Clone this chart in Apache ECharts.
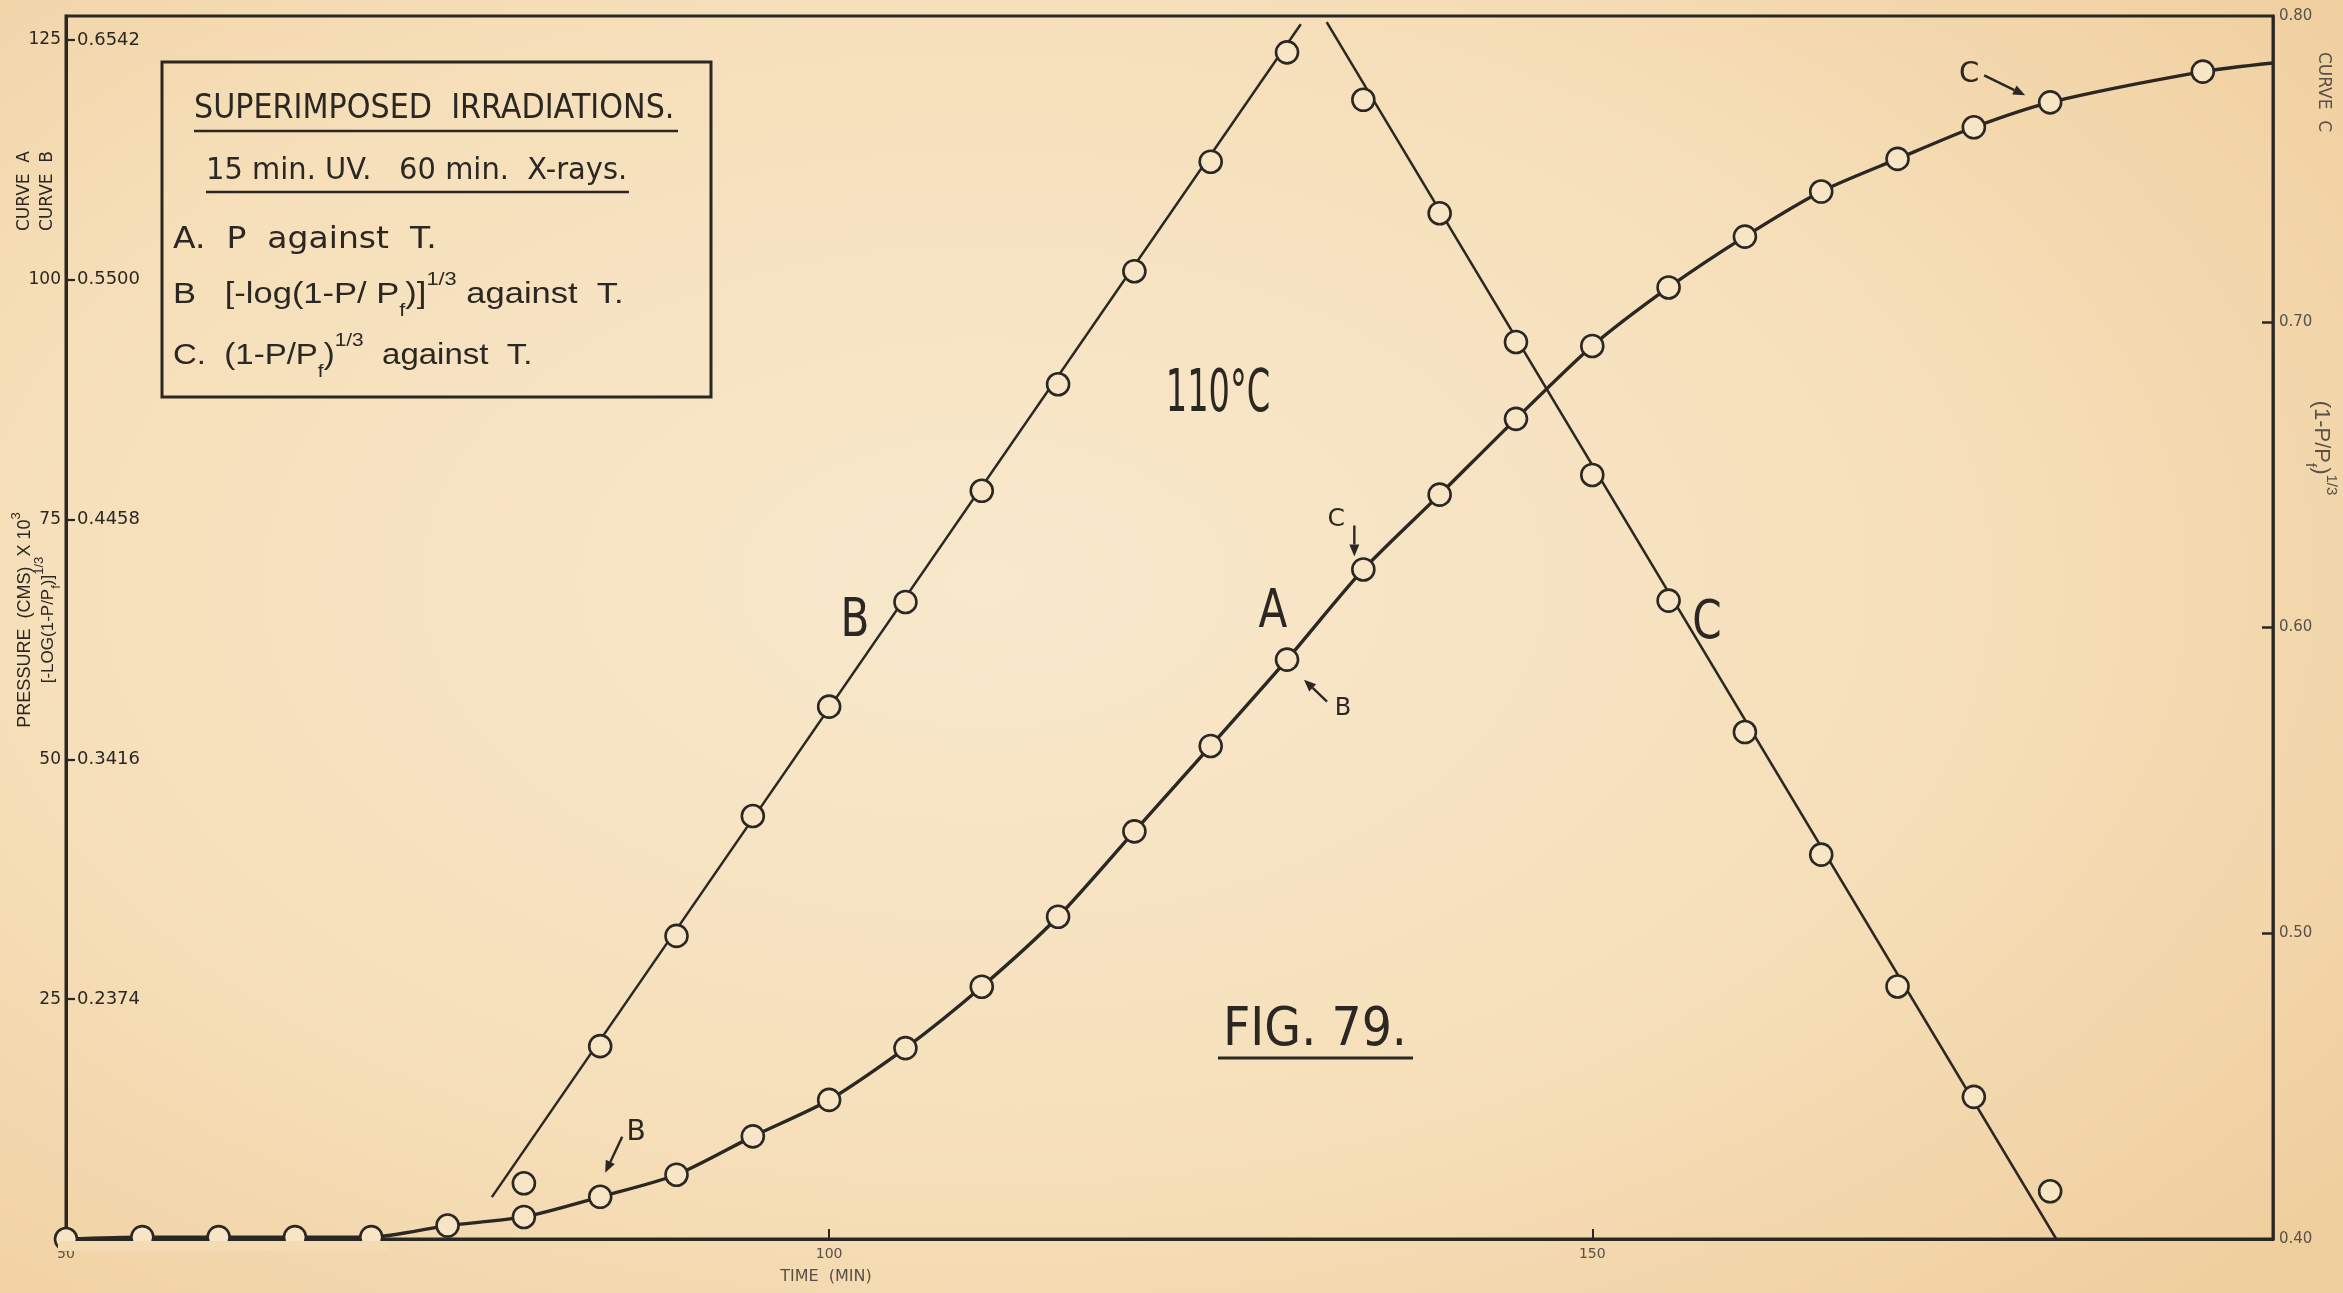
<!DOCTYPE html>
<html>
<head>
<meta charset="utf-8">
<title>Fig. 79 - Superimposed irradiations, 110°C</title>
<script src="https://cdn.jsdelivr.net/npm/echarts@6/dist/echarts.min.js"></script>
<style>
  html, body { margin: 0; padding: 0; }
  body {
    width: 2343px; height: 1293px; overflow: hidden;
    background: radial-gradient(ellipse 72% 78% at 42% 45%, #f8e8cc 0%, #f6e0bb 55%, #f0cf9f 100%);
  }
  #chart { width: 2343px; height: 1293px; }
</style>
</head>
<body>
<div id="chart"></div>
<script>
// ---- Curve A: pressure (cms x 10^3) against time (min) ----
const timeA = [50, 55, 60, 65, 70, 75, 80, 85, 90, 95, 100, 105, 110, 115, 120, 125,
               130, 135, 140, 145, 150, 155, 160, 165, 170, 175, 180, 190];
const pressureA = [0, 0.2, 0.2, 0.2, 0.2, 1.4, 2.3, 4.4, 6.7, 10.7, 14.5, 19.9, 26.3, 33.6,
                   42.5, 51.4, 60.4, 69.8, 77.6, 85.5, 93.1, 99.2, 104.5, 109.2, 112.6,
                   115.9, 118.5, 121.7];
// where the drawn curve A runs into the right-hand axis
const curveAEnd = [194.6, 122.6];

// ---- Curve B: [-log(1-P/Pf)]^1/3 against time ----
const timeB = [80, 85, 90, 95, 100, 105, 110, 115, 120, 125, 130];
const logB = [0.1574, 0.2170, 0.2649, 0.3170, 0.3645, 0.4100, 0.4583, 0.5046,
              0.5537, 0.6013, 0.6488];
// straight line drawn through the B points
const lineB = [[77.9, 0.1514], [130.9, 0.6610]];

// ---- Curve C: (1-P/Pf)^1/3 against time ----
const timeC = [135, 140, 145, 150, 155, 160, 165, 170, 175, 180];
const rootC = [0.7726, 0.7355, 0.6934, 0.6499, 0.6088, 0.5658, 0.5257, 0.4826,
               0.4465, 0.4156];
// straight line drawn through the C points
const lineC = [[132.6, 0.798], [180.4, 0.400]];

// ---- axes ----
const timeRange = [50, 194.6];
const pressureRange = [0, 127.5];
const logRange = [0.1332, 0.6646];
const rootRange = [0.40, 0.80];
const timeTicks = [50, 100, 150];
const pressureTicks = [25, 50, 75, 100, 125];
const logTicks = [0.2374, 0.3416, 0.4458, 0.5500, 0.6542];
const rootTicks = [0.40, 0.50, 0.60, 0.70, 0.80];
const rootInnerTicks = [0.50, 0.60, 0.70];

const INK = '#2b2723';
const GREY = '#585148';
const PAPER = '#f7e5c6';
const FONT = "'DejaVu Sans', 'Liberation Sans', sans-serif";

const circle = {
  symbol: 'circle',
  symbolSize: 22,
  itemStyle: { color: PAPER, borderColor: INK, borderWidth: 2.6, opacity: 1 }
};

const chart = echarts.init(document.getElementById('chart'), null, { renderer: 'canvas' });

chart.setOption({
  backgroundColor: 'transparent',
  animation: false,
  grid: {
    left: 66, right: 70, top: 16, bottom: 54,
    show: true, borderColor: INK, borderWidth: 3, backgroundColor: 'transparent'
  },
  xAxis: {
    type: 'value', min: timeRange[0], max: timeRange[1],
    splitLine: { show: false },
    axisLine: { show: true, lineStyle: { color: INK, width: 3 } },
    axisTick: { show: true, inside: true, length: 10, customValues: [100, 150],
                lineStyle: { color: INK, width: 2 } },
    axisLabel: { customValues: timeTicks, color: GREY, fontSize: 14, margin: 8,
                 fontFamily: FONT }
  },
  yAxis: [
    {
      type: 'value', min: pressureRange[0], max: pressureRange[1], position: 'left',
      splitLine: { show: false },
      axisLine: { show: true, lineStyle: { color: INK, width: 3 } },
      axisTick: { show: true, inside: true, length: 9, customValues: pressureTicks,
                  lineStyle: { color: INK, width: 2.2 } },
      axisLabel: { customValues: pressureTicks, color: INK, fontSize: 17, margin: 5,
                   fontFamily: FONT }
    },
    {
      type: 'value', min: logRange[0], max: logRange[1], position: 'left',
      splitLine: { show: false },
      axisLine: { show: false },
      axisTick: { show: false },
      axisLabel: { inside: true, customValues: logTicks, color: INK, fontSize: 18,
                   margin: 11, fontFamily: FONT, formatter: v => v.toFixed(4) }
    },
    {
      type: 'value', min: rootRange[0], max: rootRange[1], position: 'right',
      splitLine: { show: false },
      axisLine: { show: true, lineStyle: { color: INK, width: 2.5 } },
      axisTick: { show: true, inside: true, length: 11, customValues: rootInnerTicks,
                  lineStyle: { color: INK, width: 2.5 } },
      axisLabel: { customValues: rootTicks, color: GREY, fontSize: 15, margin: 6,
                   fontFamily: FONT, formatter: v => v.toFixed(2) }
    }
  ],
  series: [
    {
      name: 'A', type: 'line', xAxisIndex: 0, yAxisIndex: 0, smooth: 0.25, z: 3,
      data: timeA.map((t, i) => [t, pressureA[i]]).concat([{ value: curveAEnd, symbol: 'none' }]),
      lineStyle: { color: INK, width: 3.4 },
      ...circle
    },
    {
      name: 'B line', type: 'line', xAxisIndex: 0, yAxisIndex: 1, z: 2,
      data: lineB, symbol: 'none',
      lineStyle: { color: INK, width: 2.5 }
    },
    {
      name: 'B', type: 'scatter', xAxisIndex: 0, yAxisIndex: 1, z: 4,
      data: timeB.map((t, i) => [t, logB[i]]),
      ...circle
    },
    {
      name: 'C line', type: 'line', xAxisIndex: 0, yAxisIndex: 2, z: 2,
      data: lineC, symbol: 'none',
      lineStyle: { color: INK, width: 2.5 }
    },
    {
      name: 'C', type: 'scatter', xAxisIndex: 0, yAxisIndex: 2, z: 4,
      data: timeC.map((t, i) => [t, rootC[i]]),
      ...circle
    }
  ]
});

// ---- lettering, key box and pointers ----
const px = (axis, t, v) => chart.convertToPixel({ xAxisIndex: 0, yAxisIndex: axis }, [t, v]);

function text(x, y, str, size, o) {
  o = o || {};
  return {
    type: 'text', x: x, y: y, z: 20,
    rotation: o.rotation || 0, scaleX: o.scaleX || 1,
    style: {
      text: str, fontSize: size, fontFamily: FONT, fill: o.fill || INK,
      align: o.align || 'center', verticalAlign: 'middle',
      rich: o.rich
    }
  };
}
function rule(x1, y1, x2, y2, w) {
  return { type: 'line', z: 20, shape: { x1, y1, x2, y2 },
           style: { stroke: INK, lineWidth: w || 2.5 } };
}
function arrow(x1, y1, x2, y2) {
  const dx = x2 - x1, dy = y2 - y1, len = Math.hypot(dx, dy);
  const ux = dx / len, uy = dy / len, hl = 12, hw = 5;
  const bx = x2 - ux * hl, by = y2 - uy * hl;
  return [
    { type: 'line', z: 20, shape: { x1, y1, x2: bx, y2: by },
      style: { stroke: INK, lineWidth: 2.4 } },
    { type: 'polygon', z: 20,
      shape: { points: [[x2, y2], [bx - uy * hw, by + ux * hw], [bx + uy * hw, by - ux * hw]] },
      style: { fill: INK } }
  ];
}

const keyMain = { fontSize: 30, lineHeight: 50 };
const keySub = { fontSize: 19, verticalAlign: 'bottom', lineHeight: 20 };
const keySup = { fontSize: 19, verticalAlign: 'top', lineHeight: 20 };
const smallSub = { fontSize: 13, verticalAlign: 'bottom', lineHeight: 14 };
const smallSup = { fontSize: 13, verticalAlign: 'top', lineHeight: 14 };

const a85 = px(0, timeA[7], pressureA[7]);
const a130 = px(0, timeA[16], pressureA[16]);
const a135 = px(0, timeA[17], pressureA[17]);
const a180 = px(0, timeA[26], pressureA[26]);
const bottomLeft = px(0, timeA[0], pressureA[0]);

const g = [
  // hides the lower halves of the circles resting on the time axis
  { type: 'rect', z: 15, shape: { x: bottomLeft[0] - 8, y: bottomLeft[1] + 2, width: 330, height: 10 },
    style: { fill: '#f4dbb3' } },

  // key box
  { type: 'rect', z: 20, shape: { x: 162, y: 62, width: 549, height: 335 },
    style: { fill: 'none', stroke: INK, lineWidth: 3 } },
  text(194, 109, 'SUPERIMPOSED  IRRADIATIONS.', 33, { align: 'left', scaleX: 0.915 }),
  rule(194, 131, 678, 131, 2.5),
  text(206, 171, '15 min. UV.   60 min.  X-rays.', 30, { align: 'left', scaleX: 0.965 }),
  rule(206, 192, 629, 192, 2.5),
  text(173, 240, 'A.  P  against  T.', 30, { align: 'left', scaleX: 1.1 }),
  text(173, 295, '{m|B   [-log(1-P/ P}{s|f}{m|)]}{u|1/3}{m| against  T.}', 30,
       { align: 'left', scaleX: 1.15, rich: { m: keyMain, s: keySub, u: keySup } }),
  text(173, 356, '{m|C.  (1-P/P}{s|f}{m|)}{u|1/3}{m|  against  T.}', 30,
       { align: 'left', scaleX: 1.1, rich: { m: keyMain, s: keySub, u: keySup } }),

  // curve letters and titles
  text(1218, 396, '110°C', 58, { scaleX: 0.58 }),
  text(855, 622, 'B', 54, { scaleX: 0.78 }),
  text(1273, 613, 'A', 54, { scaleX: 0.78 }),
  text(1707, 624, 'C', 54, { scaleX: 0.78 }),
  text(1315, 1031, 'FIG. 79.', 54, { scaleX: 0.88 }),
  rule(1218, 1058, 1413, 1058, 3),

  // axis titles
  text(826, 1277, 'TIME  (MIN)', 16, { fill: GREY }),
  text(25, 191, 'CURVE  A', 17, { rotation: Math.PI / 2 }),
  text(48, 191, 'CURVE  B', 17, { rotation: Math.PI / 2 }),
  text(25, 620, '{m|PRESSURE  (CMS)  X 10}{u|3}', 18,
       { rotation: Math.PI / 2, rich: { m: { fontSize: 18, lineHeight: 30 },
                                        u: { fontSize: 13, verticalAlign: 'top', lineHeight: 14 } } }),
  text(48, 620, '{m|[-LOG(1-P/P}{s|f}{m|)]}{u|1/3}', 17,
       { rotation: Math.PI / 2, rich: { m: { fontSize: 17, lineHeight: 30 },
                                        s: smallSub, u: smallSup } }),
  text(2323, 92, 'CURVE  C', 17, { rotation: -Math.PI / 2, fill: GREY }),
  text(2321, 448, '{m|(1-P/P}{s|f}{m|)}{u|1/3}', 22,
       { rotation: -Math.PI / 2, fill: GREY,
         rich: { m: { fontSize: 22, lineHeight: 36 },
                 s: { fontSize: 15, verticalAlign: 'bottom', lineHeight: 16 },
                 u: { fontSize: 15, verticalAlign: 'top', lineHeight: 16 } } }),

  // pointers onto curve A
  text(a135[0] - 27, a135[1] - 50, 'C', 25),
  ...arrow(a135[0] - 9, a135[1] - 44, a135[0] - 9, a135[1] - 13),
  ...arrow(a130[0] + 40, a130[1] + 42, a130[0] + 17, a130[1] + 20),
  text(a130[0] + 56, a130[1] + 49, 'B', 24),
  ...arrow(a85[0] + 22, a85[1] - 60, a85[0] + 5, a85[1] - 24),
  text(a85[0] + 36, a85[1] - 64, 'B', 28),
  text(a180[0] - 81, a180[1] - 28, 'C', 29),
  ...arrow(a180[0] - 66, a180[1] - 27, a180[0] - 25, a180[1] - 7)
];

chart.setOption({ graphic: { elements: g } });
</script>
</body>
</html>
